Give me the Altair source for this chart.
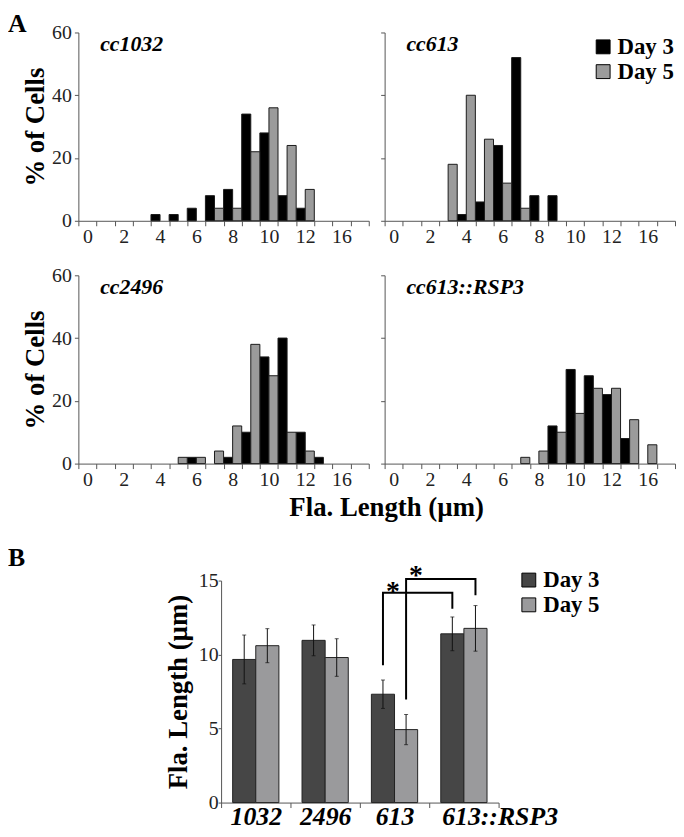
import altair as alt
import pandas as pd
import json

SERIF = "Liberation Serif"
AXC = "#555555"

# ---------------- Panel A data (percent of cells per length bin) ----------------
bins = list(range(16))
bin_tick_labels = ["0", "", "2", "", "4", "", "6", "", "8", "", "10", "", "12", "", "16", ""]
days = ["Day 3", "Day 5"]

strains = ["cc1032", "cc613", "cc2496", "cc613::RSP3"]
cc1032_day3 = [0, 0, 0, 0, 2, 2, 4, 8, 10, 34, 28, 8, 4, 0, 0, 0]
cc1032_day5 = [0, 0, 0, 0, 0, 0, 0, 4, 4, 22, 36, 24, 10, 0, 0, 0]
cc613_day3 = [0, 0, 0, 0, 2, 6, 24, 52, 8, 8, 0, 0, 0, 0, 0, 0]
cc613_day5 = [0, 0, 0, 18, 40, 26, 12, 4, 0, 0, 0, 0, 0, 0, 0, 0]
cc2496_day3 = [0, 0, 0, 0, 0, 0, 2, 0, 2, 10, 34, 40, 10, 2, 0, 0]
cc2496_day5 = [0, 0, 0, 0, 0, 2, 2, 4, 12, 38, 28, 10, 4, 0, 0, 0]
rsp3_day3 = [0, 0, 0, 0, 0, 0, 0, 0, 0, 12, 30, 28, 22, 8, 0, 0]
rsp3_day5 = [0, 0, 0, 0, 0, 0, 0, 2, 4, 10, 16, 24, 24, 14, 6, 0]

y_ticks_a = [0, 20, 40, 60]

# ---------------- Panel B data (mean flagellar length +/- error) ----------------
groups = ["1032", "2496", "613", "613::RSP3"]
day3_mean = [9.67, 10.96, 7.32, 11.40]
day3_err = [1.65, 1.04, 0.96, 1.14]
day5_mean = [10.60, 9.80, 4.93, 11.77]
day5_err = [1.15, 1.27, 1.02, 1.54]
y_ticks_b = [0, 5, 10, 15]

# significance brackets (group, day, value) in drawing order
bracket_ids = [1, 1, 1, 1, 2, 2, 2, 2]
bracket_groups = ["613", "613", "613::RSP3", "613::RSP3", "613", "613", "613::RSP3", "613::RSP3"]
bracket_days = ["Day 3", "Day 3", "Day 3", "Day 3", "Day 5", "Day 5", "Day 5", "Day 5"]
bracket_vals = [9.27, 14.18, 14.18, 13.1, 6.97, 15.1, 15.1, 14.0]
star_groups = ["613", "613"]
star_days = ["Day 3", "Day 5"]
star_vals = [14.6, 15.7]

# ---------------- Panel A charts ----------------
label_expr = json.dumps(bin_tick_labels) + "[datum.value]"


def hist(name, d3, d5, left, legend):
    rows = [{"bin": b, "day": "Day 3", "pct": v} for b, v in zip(bins, d3) if v > 0]
    rows += [{"bin": b, "day": "Day 5", "pct": v} for b, v in zip(bins, d5) if v > 0]
    df = pd.DataFrame(rows)
    x = alt.X("bin:O", scale=alt.Scale(domain=bins, paddingInner=0, paddingOuter=0),
              axis=alt.Axis(title=None, labelAngle=0, tickBand="extent", tickSize=5,
                            labelPadding=1, labelExpr=label_expr, labelFont=SERIF,
                            labelFontSize=20, labelColor="#222222", domainColor=AXC,
                            tickColor=AXC, labelOverlap=False, labelFlush=False))
    yaxis = dict(values=y_ticks_a, grid=False, tickSize=4, labelPadding=3, labelFont=SERIF,
                 labelFontSize=20, labelColor="#222222", domainColor=AXC, tickColor=AXC)
    if left:
        yaxis.update(title="% of Cells", titleFont=SERIF, titleFontSize=27,
                     titleFontWeight="bold", titleColor="black", titlePadding=2)
    else:
        yaxis.update(title=None, labels=False)
    y = alt.Y("pct:Q", scale=alt.Scale(domain=[0, 60], nice=False), axis=alt.Axis(**yaxis))
    if legend:
        leg = alt.Legend(title=None, orient="none", legendX=209, legendY=3, symbolType="square",
                         symbolSize=196, symbolStrokeColor="black", symbolStrokeWidth=1,
                         labelFont=SERIF, labelFontSize=23, labelFontWeight="bold",
                         labelColor="black", labelOffset=3, rowPadding=1, padding=0,
                         symbolOpacity=1)
    else:
        leg = None
    bars = alt.Chart(df).mark_bar(stroke="#1a1a1a", strokeWidth=1).encode(
        x=x,
        xOffset=alt.XOffset("day:N", scale=alt.Scale(domain=days, paddingInner=0, paddingOuter=0)),
        y=y,
        color=alt.Color("day:N", scale=alt.Scale(domain=days, range=["#000000", "#9b9b9b"]),
                        legend=leg),
    )
    title = alt.Chart(pd.DataFrame({"t": [name]})).mark_text(
        font=SERIF, fontSize=22, fontStyle="italic", fontWeight="bold", align="left",
        baseline="alphabetic", color="black"
    ).encode(x=alt.value(22), y=alt.value(19), text="t:N")
    return [bars, title]


p1_layers = hist(strains[0], cc1032_day3, cc1032_day5, True, False)
p1_layers.append(
    alt.Chart(pd.DataFrame({"t": ["A"]})).mark_text(
        font=SERIF, fontSize=26, fontWeight="bold", align="left", baseline="top", color="black"
    ).encode(x=alt.value(-71), y=alt.value(-21), text="t:N")
)
p1 = alt.layer(*p1_layers).properties(width=293, height=190)

p2 = alt.layer(*hist(strains[1], cc613_day3, cc613_day5, False, True)).properties(width=293, height=190)

p3_layers = hist(strains[2], cc2496_day3, cc2496_day5, True, False)
p3_layers.append(
    alt.Chart(pd.DataFrame({"t": ["Fla. Length (µm)"]})).mark_text(
        font=SERIF, fontSize=27, fontWeight="bold", align="center", baseline="alphabetic",
        color="black"
    ).encode(x=alt.value(311), y=alt.value(243), text="t:N")
)
p3 = alt.layer(*p3_layers).properties(width=293, height=190)

p4 = alt.layer(*hist(strains[3], rsp3_day3, rsp3_day5, False, False)).properties(width=293, height=190)

# ---------------- Panel B chart ----------------
# Panel B sits in the right grid column (origin 309px right of panel A's left plot edge);
# its plot area is shifted left by BSHIFT px so it starts 144px right of that edge.
BSHIFT = 165
BW = 280

brows = []
for g, m, e in zip(groups, day3_mean, day3_err):
    brows.append({"group": g, "day": "Day 3", "val": m, "lo": m - e, "hi": m + e})
for g, m, e in zip(groups, day5_mean, day5_err):
    brows.append({"group": g, "day": "Day 5", "val": m, "lo": m - e, "hi": m + e})
bdf = pd.DataFrame(brows)

bx_axis = alt.Axis(title=None, labelAngle=0, tickBand="extent", tickSize=5, labelPadding=-4,
                   labelFont=SERIF, labelFontSize=26, labelFontStyle="italic",
                   labelFontWeight="bold", labelColor="black", labelBaseline="top",
                   labelOffset={"condition": {"test": "datum.value == '613::RSP3'", "value": 36},
                                "value": 0},
                   domainColor=AXC, tickColor=AXC, labelOverlap=False, labelFlush=False)
bx_scale = alt.Scale(domain=groups, paddingInner=0, paddingOuter=0, range=[-BSHIFT, BW - BSHIFT])
by_axis = alt.Axis(values=y_ticks_b, grid=False, tickSize=3, labelPadding=0, labelFont=SERIF,
                   labelFontSize=20, labelColor="#222222", domainColor=AXC, tickColor=AXC,
                   title="Fla. Length (µm)", titleFont=SERIF, titleFontSize=27,
                   titleFontWeight="bold", titleColor="black", titlePadding=6, offset=BSHIFT)
by_scale = alt.Scale(domain=[0, 15], nice=False, range=[287, 63])
bxo = alt.XOffset("day:N", scale=alt.Scale(domain=days, paddingInner=0, paddingOuter=0.5))


def BX():
    return alt.X("group:N", sort=groups, scale=bx_scale, axis=bx_axis)


def BY(field):
    return alt.Y(field, scale=by_scale, axis=by_axis)


bbars = alt.Chart(bdf).mark_bar(stroke="#222222", strokeWidth=1).encode(
    x=BX(), xOffset=bxo, y=BY("val:Q"),
    color=alt.Color("day:N", scale=alt.Scale(domain=days, range=["#464646", "#9a9a9c"]),
                    legend=alt.Legend(title=None, orient="none", legendX=299 - BSHIFT, legendY=51,
                                      symbolType="square", symbolSize=196,
                                      symbolStrokeColor="black", symbolStrokeWidth=1,
                                      labelFont=SERIF, labelFontSize=23,
                                      labelFontWeight="bold", labelColor="black",
                                      labelOffset=3, rowPadding=1, padding=0,
                                      symbolOpacity=1)),
)
berr = alt.Chart(bdf).mark_rule(color="#111111", strokeWidth=1).encode(
    x=BX(), xOffset=bxo, y=BY("lo:Q"), y2="hi:Q")
bcap_lo = alt.Chart(bdf).mark_tick(color="#111111", thickness=1, size=4).encode(
    x=BX(), xOffset=bxo, y=BY("lo:Q"))
bcap_hi = alt.Chart(bdf).mark_tick(color="#111111", thickness=1, size=4).encode(
    x=BX(), xOffset=bxo, y=BY("hi:Q"))

brk_df = pd.DataFrame({"bid": bracket_ids, "group": bracket_groups, "day": bracket_days,
                       "val": bracket_vals, "seq": list(range(len(bracket_vals)))})
bbrk = alt.Chart(brk_df).mark_line(color="black", strokeWidth=2).encode(
    x=BX(), xOffset=bxo, y=BY("val:Q"), detail="bid:N", order="seq:Q")

star_df = pd.DataFrame({"group": star_groups, "day": star_days, "val": star_vals})
bstar = alt.Chart(star_df).mark_text(
    text="*", font=SERIF, fontSize=28, fontWeight="bold", dx=10, dy=14,
    baseline="alphabetic", color="black"
).encode(x=BX(), xOffset=bxo, y=BY("val:Q"))

B = alt.layer(bbars, berr, bcap_lo, bcap_hi, bbrk, bstar).properties(width=BW - BSHIFT, height=287)

spacer = alt.Chart(pd.DataFrame({"t": ["B"]})).mark_text(
    font=SERIF, fontSize=26, fontWeight="bold", align="left", baseline="alphabetic",
    color="black"
).encode(x=alt.value(-71), y=alt.value(48), text="t:N").properties(width=100, height=10)

chart = alt.concat(
    p1, p2, p3, p4, spacer, B,
    columns=2, spacing={"row": 55, "column": 16}, bounds="flush", padding=0,
).resolve_scale(color="independent", xOffset="independent").resolve_legend(
    color="independent"
).configure_view(stroke=None).configure_axis(labelFont=SERIF, titleFont=SERIF).configure_text(
    font=SERIF)

chart.save("out.html", embed_options={"renderer": "svg", "actions": False})
